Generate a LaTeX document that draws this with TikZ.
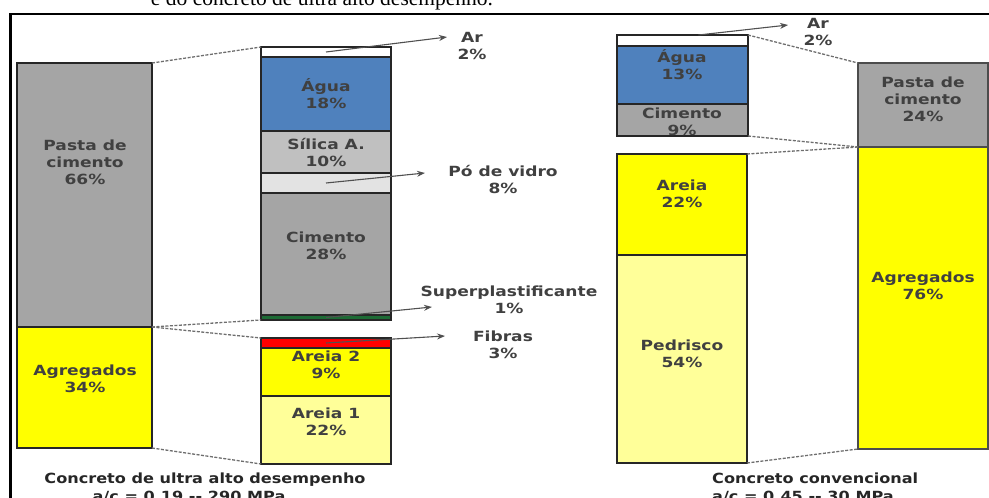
\documentclass[tikz,border=0pt]{standalone}
\usepackage{fontspec}
\usetikzlibrary{arrows.meta}
\newfontfamily\barfont[FakeStretch=1.22]{DejaVu Sans}
\newfontfamily\legfont[FakeStretch=1.15]{DejaVu Sans}
\newfontfamily\capfont{Liberation Serif}
\definecolor{pasta}{HTML}{A5A5A5}
\definecolor{agua}{HTML}{4F81BD}
\definecolor{silica}{HTML}{C0C0C0}
\definecolor{vidro}{HTML}{E3E3E3}
\definecolor{superp}{HTML}{1D6B35}
\definecolor{fibra}{HTML}{FF0000}
\definecolor{areia}{HTML}{FFFF00}
\definecolor{areiaclara}{HTML}{FFFF99}
\definecolor{txtgray}{HTML}{404040}
\definecolor{linkgray}{HTML}{6E6E6E}
\definecolor{arrgray}{HTML}{505050}
\begin{document}
\begin{tikzpicture}[x=1pt,y=-1pt,
  seg/.style={draw=black!85,line width=1.6pt,inner sep=0pt,outer sep=0pt,anchor=north west,minimum width=130pt},
  txt/.style={align=center,inner sep=0pt,font=\barfont\bfseries\fontsize{14}{17}\selectfont,text=txtgray},
  legenda/.style={inner sep=0pt,font=\legfont\bfseries\fontsize{14}{17}\selectfont,text=black!85},
  link/.style={draw=linkgray,line width=1.3pt,dash pattern=on 3pt off 1.5pt},
  arr/.style={draw=arrgray,line width=1.1pt,-{Stealth[length=8pt,width=6pt]}}]
\useasboundingbox (0,0) rectangle (989,498);
\clip (0,0) rectangle (989,498);
\node[anchor=base,inner sep=0pt,font=\capfont\fontsize{21.5}{25}\selectfont] (titulo) at (322,5.5) {e do concreto de ultra alto desempenho.};
\draw[line width=2.2pt] (10.5,498) -- (10.5,14) -- (989,14);
\node[seg,fill=pasta,minimum width=135pt,minimum height=264pt] (pastaA) at (17,63) {};
\node[seg,fill=areia,minimum width=135pt,minimum height=121pt] (agregA) at (17,327) {};
\node[seg,fill=white,minimum height=10pt] (arA) at (261,47) {};
\node[seg,fill=agua,minimum height=74pt] (aguaA) at (261,57) {};
\node[seg,fill=silica,minimum height=42pt] (silica) at (261,131) {};
\node[seg,fill=vidro,minimum height=20pt] (vidro) at (261,173) {};
\node[seg,fill=pasta,minimum height=122pt] (cimA) at (261,193) {};
\node[seg,fill=superp,minimum height=5pt] (superp) at (261,315) {};
\node[seg,fill=fibra,minimum height=10pt] (fibras) at (261,338) {};
\node[seg,fill=areia,minimum height=48pt] (areia2) at (261,348) {};
\node[seg,fill=areiaclara,minimum height=68pt] (areia1) at (261,396) {};
\node[seg,fill=white,minimum width=131pt,minimum height=11pt] (arB) at (617,35) {};
\node[seg,fill=agua,minimum width=131pt,minimum height=58pt] (aguaB) at (617,46) {};
\node[seg,fill=pasta,minimum width=131pt,minimum height=32pt] (cimB) at (617,104) {};
\node[seg,fill=areia,minimum height=101pt] (areiaB) at (617,154) {};
\node[seg,fill=areiaclara,minimum height=208pt] (pedrisco) at (617,255) {};
\node[seg,fill=pasta,draw=black!70,minimum height=84pt] (pastaB) at (858,63) {};
\node[seg,fill=areia,draw=black!70,minimum height=302pt] (agregB) at (858,147) {};
\node[txt] (tPastaA) at (85,162) {Pasta de\\cimento\\66\%};
\node[txt] (tAgregA) at (85,379) {Agregados\\34\%};
\node[txt] (tAguaA) at (326,94) {Água\\18\%};
\node[txt] (tSilica) at (326,152) {Sílica A.\\10\%};
\node[txt] (tCimA) at (326,246) {Cimento\\28\%};
\node[txt] (tAreia2) at (326,365) {Areia 2\\9\%};
\node[txt] (tAreia1) at (326,422) {Areia 1\\22\%};
\node[txt] (tAguaB) at (682,64.5) {Água\\13\%};
\node[txt] (tCimB) at (682,121.5) {Cimento\\9\%};
\node[txt] (tAreiaB) at (682,193.5) {Areia\\22\%};
\node[txt] (tPedrisco) at (682,353.5) {Pedrisco\\54\%};
\node[txt] (tPastaB) at (923,99) {Pasta de\\cimento\\24\%};
\node[txt] (tAgregB) at (923,286) {Agregados\\76\%};
\node[txt] (lArA) at (472,46) {Ar\\2\%};
\node[txt] (lVidro) at (503,179.5) {Pó de vidro\\8\%};
\node[txt] (lSuperp) at (509,299.5) {Superplastificante\\1\%};
\node[txt] (lFibras) at (503,344.5) {Fibras\\3\%};
\node[txt] (lArB) at (818,31.5) {Ar\\2\%};
\node[legenda] (cUltra) at (205,480) {Concreto de ultra alto desempenho};
\node[legenda] (cUltraB) at (189,497) {a/c = 0,19 -- 290 MPa};
\node[legenda,anchor=west] (cConv) at (712,478) {Concreto convencional};
\node[legenda,anchor=west] (cConvB) at (712,497) {a/c = 0,45 -- 30 MPa};
\coordinate (pArA) at (447,37);
\coordinate (pVidro) at (425,173);
\coordinate (pSuperp) at (432,307);
\coordinate (pFibras) at (445,336);
\coordinate (pArB) at (788,25);
\draw[link] (pastaA.north east) -- (arA.north west);
\draw[link] (pastaA.south east) -- (superp.south west);
\draw[link] (agregA.north east) -- (fibras.north west);
\draw[link] (agregA.south east) -- (areia1.south west);
\draw[link] (arB.north east) -- (pastaB.north west);
\draw[link] (cimB.south east) -- (pastaB.south west);
\draw[link] (areiaB.north east) -- (agregB.north west);
\draw[link] (pedrisco.south east) -- (agregB.south west);
\draw[arr] (arA.center) -- (pArA);
\draw[arr] (vidro.center) -- (pVidro);
\draw[arr] (superp.center) -- (pSuperp);
\draw[arr] (fibras.center) -- (pFibras);
\draw[arr] ([xshift=16pt]arB.north) -- (pArB);
\end{tikzpicture}
\end{document}
